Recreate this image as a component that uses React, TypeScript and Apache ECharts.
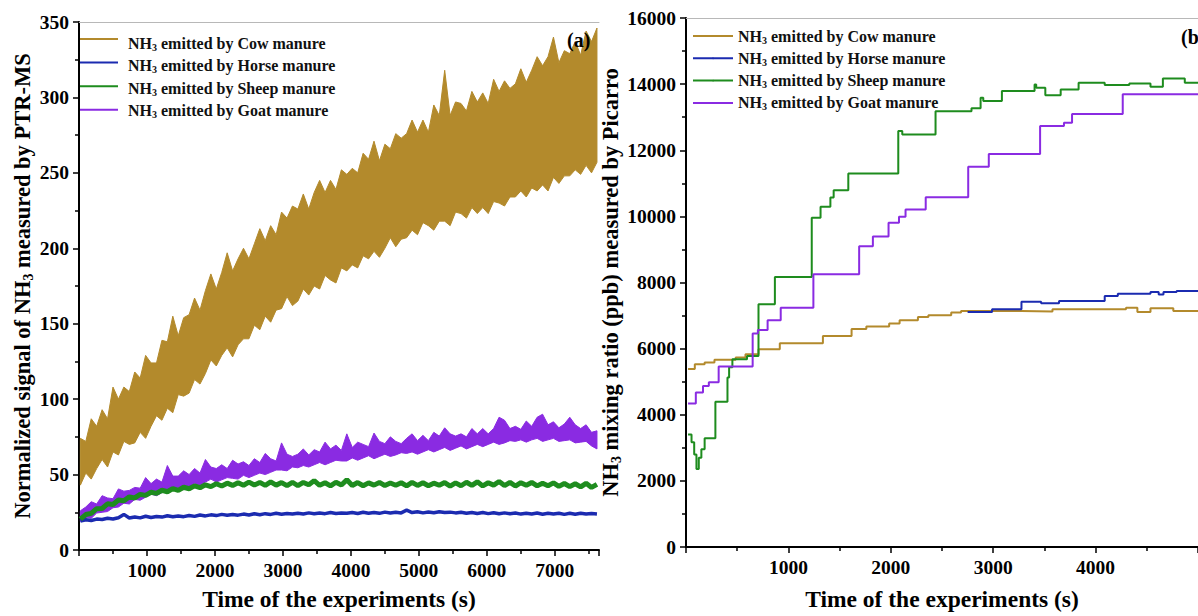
import React, { useEffect, useRef } from 'react';
import * as echarts from 'echarts';

const FONT = '"Liberation Serif", "Times New Roman", Times, serif';
const SERIES_NAMES = ['Cow manure', 'Horse manure', 'Sheep manure', 'Goat manure'];
const COLORS = ['#B38A2C', '#1B2BB0', '#1E8C1E', '#8A2BE2'];

// Panel (a): PTR-MS signals, sampled every DT s starting at T0 s
const T0 = 20;
const DT = 80;

// Cow and goat signals are very noisy: upper / lower edge of the noise band
const cowHigh = [
  74, 72, 87, 82, 93, 87, 108, 100, 108, 105,
  118, 114, 129, 124, 124, 139, 138, 155, 142, 154,
  156, 167, 159, 172, 183, 173, 184, 197, 185, 193,
  200, 193, 203, 213, 205, 215, 209, 224, 220, 228,
  226, 236, 226, 237, 245, 237, 245, 239, 252, 249,
  253, 250, 263, 259, 271, 258, 269, 266, 276, 273,
  276, 285, 277, 285, 277, 295, 288, 318, 288, 297,
  296, 291, 304, 297, 303, 296, 312, 304, 311, 306,
  309, 319, 310, 318, 327, 321, 327, 340, 323, 331,
  329, 337, 328, 344, 337, 346,
];
const cowLow = [
  43, 51, 47, 54, 60, 55, 65, 63, 72, 70,
  71, 78, 74, 82, 89, 86, 94, 91, 103, 102,
  104, 113, 110, 117, 126, 122, 129, 134, 128, 136,
  140, 140, 149, 146, 155, 151, 159, 160, 168, 162,
  165, 173, 169, 175, 173, 182, 179, 177, 187, 185,
  189, 187, 195, 193, 198, 194, 200, 207, 201, 206,
  207, 212, 209, 217, 215, 212, 218, 218, 215, 224,
  223, 220, 227, 223, 227, 223, 231, 230, 228, 234,
  234, 238, 234, 240, 238, 242, 238, 247, 243, 248,
  248, 252, 249, 255, 250, 257,
];
const goatHigh = [
  26, 28.5, 32, 30.5, 36, 34.5, 34, 40.5, 39, 39.5,
  41.5, 41, 48, 44, 47, 45, 56, 49, 49, 52.5,
  50, 54, 51, 60, 55, 54, 56.5, 54, 59.5, 57,
  58.5, 56, 60.5, 58, 64, 60.5, 59, 71, 63.5, 62,
  63.5, 67, 63, 66.5, 65, 71.5, 67, 69.5, 66, 77,
  68, 71.5, 70, 68.5, 77.5, 72, 70.5, 75, 72, 70.5,
  74, 77, 72.5, 76, 72.5, 78, 75.5, 81, 77, 75.5,
  77, 75, 80.5, 77, 80.5, 77, 80.5, 88, 86, 80.5,
  82, 80, 85.5, 82, 88, 90, 83, 85, 81, 83.5,
  88, 83, 80.5, 83, 78, 79,
];
const goatLow = [
  19, 21.5, 21, 24.5, 25, 25.5, 28, 28.5, 31, 30.5,
  33.5, 33, 35, 37, 36, 38, 40, 40, 40, 42.5,
  42, 44, 43, 45, 47, 45, 46.5, 48, 47.5, 47,
  49.5, 48, 49.5, 51, 50, 51.5, 53, 53, 52.5, 55,
  54.5, 56, 55, 56.5, 58, 56.5, 58, 59.5, 59, 59,
  61, 59.5, 61, 62.5, 60.5, 62, 63.5, 62, 63, 64.5,
  64, 65, 63.5, 65, 66.5, 65, 66.5, 68, 66, 67.5,
  69, 67, 68.5, 70, 68.5, 70, 71.5, 70, 71, 72.5,
  72, 73, 71.5, 73, 74, 72, 73, 74, 72, 72.5,
  73, 71, 71.5, 72, 69, 67,
];
const horseA = [
  19.2, 20.1, 19.6, 20.5, 20.2, 21.0, 20.6, 21.4, 23.6, 21.2,
  21.9, 21.3, 22.4, 21.5, 22.2, 21.8, 22.7, 22.0, 22.6, 22.1,
  22.9, 22.3, 23.2, 22.6, 23.3, 22.8, 23.6, 23.0, 23.5, 23.1,
  23.8, 23.2, 24.0, 23.4, 24.1, 23.6, 24.3, 23.7, 24.2, 23.8,
  24.4, 23.9, 24.6, 24.0, 24.5, 24.1, 24.8, 24.2, 24.6, 24.3,
  24.9, 24.2, 25.0, 24.4, 24.9, 24.3, 25.1, 24.5, 25.0, 24.6,
  26.4, 24.8, 25.3, 24.6, 25.2, 24.7, 25.4, 24.8, 25.1, 24.6,
  25.0, 24.3, 24.9, 24.2, 24.8, 24.1, 24.7, 24.0, 24.6, 24.1,
  24.5, 23.8, 24.4, 23.9, 24.5, 23.7, 24.3, 23.8, 24.4, 23.6,
  24.3, 23.7, 24.4, 23.8, 24.2, 23.9,
];
const sheepA = [
  20.5, 23.5, 24.3, 27.4, 27.5, 30.6, 30.2, 33.1, 32.6, 35.2,
  34.5, 36.9, 36.2, 38.3, 37.5, 39.6, 38.6, 40.7, 39.5, 41.6,
  40.6, 42.5, 41.3, 43.2, 42.0, 43.9, 42.4, 44.3, 42.8, 44.6,
  42.9, 45.0, 43.1, 44.8, 42.8, 45.1, 43.0, 44.7, 42.7, 44.9,
  42.6, 44.8, 43.2, 46.0, 42.9, 44.6, 42.5, 44.9, 43.1, 46.5,
  42.8, 44.7, 42.6, 44.5, 43.0, 44.8, 42.7, 44.4, 42.9, 44.6,
  42.5, 44.8, 42.8, 44.6, 42.6, 44.3, 42.9, 44.7, 42.4, 44.5,
  42.6, 44.9, 42.8, 45.2, 42.5, 44.6, 43.0, 45.4, 42.7, 44.8,
  42.4, 44.6, 42.9, 44.8, 42.5, 44.3, 42.6, 44.5, 42.2, 44.1,
  42.0, 43.9, 41.8, 44.2, 41.5, 43.5,
];

// Panel (b): Picarro mixing ratios (ppb), [time s, value] step points
const cowB = [
  [20, 5380], [86, 5530], [182, 5580], [278, 5660], [485, 5730], [581, 5830], [708, 5980],
  [916, 6160], [1337, 6380], [1617, 6590], [1761, 6670], [1984, 6760], [2086, 6860],
  [2265, 6960], [2367, 7010], [2590, 7090], [2686, 7140], [3276, 7120], [3579, 7190],
  [4297, 7240], [4408, 7110], [4536, 7220], [4759, 7140], [5000, 7140],
];
const horseB = [
  [2750, 7110], [2989, 7190], [3276, 7420], [3468, 7370], [3643, 7440], [4089, 7590],
  [4217, 7660], [4536, 7710], [4616, 7640], [4663, 7710], [4791, 7740], [5000, 7740],
];
const sheepB = [
  [20, 3400], [54, 3170], [80, 2800], [102, 2360], [125, 2700], [150, 2960], [182, 3290],
  [287, 4390], [405, 5130], [421, 5440], [453, 5680], [596, 5780], [708, 7340], [868, 8170],
  [1228, 9960], [1314, 10290], [1410, 10570], [1442, 10790], [1585, 11300], [2073, 12580],
  [2112, 12480], [2437, 13180], [2788, 13270], [2877, 13590], [2903, 13490], [3085, 13790],
  [3404, 13990], [3420, 13890], [3509, 13660], [3659, 13840], [3834, 14040], [4089, 13970],
  [4329, 14020], [4536, 13920], [4657, 14170], [4871, 14040], [5000, 14040],
];
const goatB = [
  [20, 4340], [96, 4670], [166, 4870], [223, 4980], [319, 5460], [651, 6460], [702, 6560],
  [797, 6860], [925, 7240], [1244, 8250], [1691, 9100], [1825, 9390], [1978, 9810],
  [2080, 9990], [2144, 10210], [2341, 10580], [2756, 11500], [2957, 11890], [3458, 12730],
  [3691, 12830], [3770, 13100], [4265, 13690], [5000, 13690],
];

const X_A_MAX = 7650;
const Y_A_MAX = 350;
const X_B_MAX = 5000;
const Y_B_MAX = 16000;

const timeOf = (i: number) => T0 + i * DT;
const toPairs = (vals: number[]) => vals.map((v, i) => [timeOf(i), v]);

const richName = (size: number) => ({
  t: { fontFamily: FONT, fontWeight: 'bold', fontSize: size, color: '#000', lineHeight: 26 },
  s: { fontFamily: FONT, fontWeight: 'bold', fontSize: Math.round(size * 0.62), color: '#000', lineHeight: 8, verticalAlign: 'bottom' },
});

const legendRich = {
  a: { fontFamily: FONT, fontWeight: 'bold', fontSize: 16, color: '#111', lineHeight: 18 },
  s: { fontFamily: FONT, fontWeight: 'bold', fontSize: 10, color: '#111', lineHeight: 6, verticalAlign: 'bottom' },
};

const baseAxis = {
  axisLine: { show: true, onZero: false, lineStyle: { color: '#000', width: 2 } },
  axisTick: { show: true, inside: false, length: 6, lineStyle: { color: '#000', width: 1.5 } },
  minorTick: { show: true, splitNumber: 2, length: 4, lineStyle: { color: '#000', width: 1.5 } },
  splitLine: { show: false },
  minorSplitLine: { show: false },
  axisLabel: {
    color: '#000', fontFamily: FONT, fontWeight: 'bold', fontSize: 19.5, margin: 10,
    showMinLabel: false, showMaxLabel: false, formatter: (v: number) => String(v),
  },
};

const xName = { fontFamily: FONT, fontWeight: 'bold', fontSize: 23.5, color: '#000' };

const topBorder = (gridIndex: number, max: number) => ({
  type: 'value', gridIndex, position: 'top', min: 0, max,
  axisLine: { show: true, onZero: false, lineStyle: { color: '#b8b8b8', width: 1 } },
  axisTick: { show: false }, axisLabel: { show: false }, splitLine: { show: false },
});

// legend layout of panel (a)
const LEG_A_LEFT = 80;
const LEG_A_TOP = 30;
const LEG_ROW = 18;
const LEG_A_GAP = 5.6;
const LEG_ICON_W = 38;

export default function App() {
  const ref = useRef<HTMLDivElement>(null);
  useEffect(() => {
    if (!ref.current) return;
    const chart = echarts.init(ref.current, undefined, { renderer: 'svg' });

    // noise band drawn as one polygon, positioned through the axes' scales (api.coord)
    const band = (id: string, low: number[], high: number[], color: string, z: number) => ({
      name: id, type: 'custom', coordinateSystem: 'cartesian2d', xAxisIndex: 0, yAxisIndex: 0, z,
      itemStyle: { color },
      data: high.map((h, i) => [timeOf(i), low[i], h]),
      encode: { x: 0, y: [1, 2] },
      clip: true,
      renderItem: (params: any, api: any) => {
        if (params.dataIndex !== 0) return null;
        const top = high.map((h, i) => api.coord([timeOf(i), h]));
        const bottom = low.map((l, i) => api.coord([timeOf(i), l])).reverse();
        return {
          type: 'polygon',
          shape: { points: top.concat(bottom) },
          style: { fill: color, stroke: color, lineWidth: 1 },
        };
      },
    });

    const bData = [cowB, horseB, sheepB, goatB];
    const series: any[] = SERIES_NAMES.map((name, i) => ({
      name, type: 'line', xAxisIndex: 2, yAxisIndex: 1, data: bData[i], symbol: 'none', step: 'end',
      lineStyle: { color: COLORS[i], width: 2 }, itemStyle: { color: COLORS[i] }, z: 2,
    }));
    series.push(
      band('PTR-MS cow band', cowLow, cowHigh, COLORS[0], 2),
      {
        name: SERIES_NAMES[1], type: 'line', xAxisIndex: 0, yAxisIndex: 0, data: toPairs(horseA), symbol: 'none',
        lineStyle: { color: COLORS[1], width: 3.5 }, itemStyle: { color: COLORS[1] }, z: 3,
      },
      band('PTR-MS goat band', goatLow, goatHigh, COLORS[3], 3),
      {
        name: SERIES_NAMES[2], type: 'line', xAxisIndex: 0, yAxisIndex: 0, data: toPairs(sheepA), symbol: 'none',
        lineStyle: { color: COLORS[2], width: 5 }, itemStyle: { color: COLORS[2] }, z: 4,
      },
    );

    const formatter = (n: string) => `{a|NH}{s|3}{a| emitted by ${n}}`;

    // panel (a) legend: text from the legend component, line keys drawn as plain lines
    const legendKeysA = SERIES_NAMES.map((_, k) => {
      const y = LEG_A_TOP + LEG_ROW / 2 + k * (LEG_ROW + LEG_A_GAP);
      return {
        type: 'line', z: 20,
        shape: { x1: LEG_A_LEFT, y1: y, x2: LEG_A_LEFT + LEG_ICON_W, y2: y },
        style: { stroke: COLORS[k], lineWidth: 2 },
      };
    });

    chart.setOption({
      animation: false,
      backgroundColor: '#fff',
      color: COLORS,
      grid: [
        { left: 79, top: 22, width: 520, height: 529 },
        { left: 686, top: 18, width: 522.5, height: 530 },
      ],
      legend: [
        {
          orient: 'vertical', left: LEG_A_LEFT, top: LEG_A_TOP, itemWidth: LEG_ICON_W, itemHeight: 2,
          itemGap: LEG_A_GAP, selectedMode: false,
          data: SERIES_NAMES.map((name) => ({ name, icon: 'none' })),
          itemStyle: { opacity: 0 }, lineStyle: { opacity: 0, width: 0 },
          formatter, textStyle: { rich: legendRich }, z: 10,
        },
        {
          orient: 'vertical', left: 687, top: 23, itemWidth: 40, itemHeight: 2, itemGap: 5.3,
          selectedMode: false, data: SERIES_NAMES.slice(), lineStyle: { width: 2 },
          formatter, textStyle: { rich: legendRich }, z: 10,
        },
      ],
      xAxis: [
        {
          ...baseAxis, type: 'value', gridIndex: 0, min: 0, max: X_A_MAX, interval: 1000,
          name: 'Time of the experiments (s)', nameLocation: 'middle', nameGap: 37, nameTextStyle: xName,
        },
        topBorder(0, X_A_MAX),
        {
          ...baseAxis, type: 'value', gridIndex: 1, min: 0, max: X_B_MAX, interval: 1000,
          name: 'Time of the experiments (s)', nameLocation: 'middle', nameGap: 40, nameTextStyle: xName,
        },
        topBorder(1, X_B_MAX),
      ],
      yAxis: [
        {
          ...baseAxis, type: 'value', gridIndex: 0, min: 0, max: Y_A_MAX, interval: 50,
          axisLabel: { ...baseAxis.axisLabel, showMinLabel: true, showMaxLabel: true },
          name: '{t|Normalized signal of NH}{s|3}{t| measured by PTR-MS}',
          nameLocation: 'middle', nameGap: 44, nameRotate: 90,
          nameTextStyle: { rich: richName(22.5) },
        },
        {
          ...baseAxis, type: 'value', gridIndex: 1, min: 0, max: Y_B_MAX, interval: 2000,
          axisLabel: { ...baseAxis.axisLabel, showMinLabel: true, showMaxLabel: true },
          name: '{t|NH}{s|3}{t| mixing ratio (ppb) measured by Picarro}',
          nameLocation: 'middle', nameGap: 40, nameRotate: 90,
          nameTextStyle: { rich: richName(22.5) },
        },
      ],
      graphic: [
        ...legendKeysA,
        { type: 'text', left: 567, top: 30, z: 100, style: { text: '(a)', font: `bold 20px ${FONT}`, fill: '#000' } },
        { type: 'text', left: 1181, top: 27, z: 100, style: { text: '(b)', font: `bold 20px ${FONT}`, fill: '#000' } },
      ],
      series,
    });
    return () => chart.dispose();
  }, []);
  return <div ref={ref} style={{ position: 'absolute', left: 0, top: 0, width: 1198, height: 616 }} />;
}
